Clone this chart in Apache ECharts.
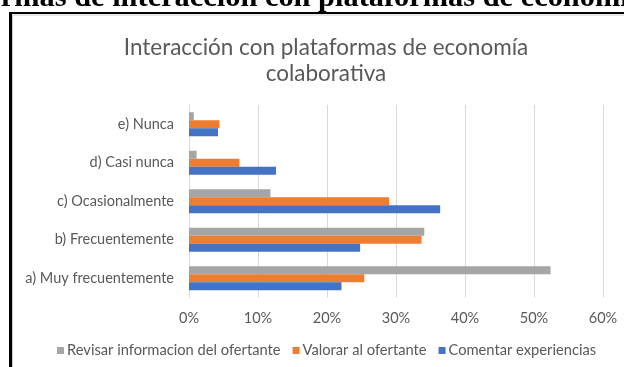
<!DOCTYPE html>
<html>
<head>
<meta charset="utf-8">
<script src="https://cdn.jsdelivr.net/npm/echarts@6/dist/echarts.min.js"></script>
<style>
  html, body { margin: 0; padding: 0; background: #fff; }
  #chart { width: 624px; height: 367px; }
</style>
</head>
<body>
<div id="chart"></div>
<script>
// Response categories (bottom to top on the vertical axis)
const categories = [
  'a) Muy frecuentemente',
  'b) Frecuentemente',
  'c) Ocasionalmente',
  'd) Casi nunca',
  'e) Nunca'
];

// Share of respondents per activity, in percent
const revisarInformacion = [52.4, 34.1, 11.8, 1.1, 0.7];
const valorarOfertante = [25.4, 33.7, 29.0, 7.3, 4.4];
const comentarExperiencias = [22.1, 24.8, 36.4, 12.6, 4.2];

const seriesNames = [
  'Revisar informacion del ofertante',
  'Valorar al ofertante',
  'Comentar experiencias'
];

const axisTicks = [0, 10, 20, 30, 40, 50, 60];

const chartTitle = 'Interacción con plataformas de economía\ncolaborativa';
const pageHeading = 'Formas de interacción con plataformas de economía colaborativa';

const font = 'Lato, "Open Sans", sans-serif';
const textGray = '#595959';

const chart = echarts.init(document.getElementById('chart'));

chart.setOption({
  animation: false,
  backgroundColor: '#fff',
  title: {
    text: chartTitle,
    left: 321,
    top: 30,
    textAlign: 'center',
    textStyle: {
      fontFamily: font,
      fontSize: 22.5,
      fontWeight: 'normal',
      color: textGray,
      lineHeight: 26
    }
  },
  legend: {
    data: seriesNames,
    bottom: 4,
    left: 52,
    itemWidth: 7,
    itemHeight: 7,
    itemGap: 12,
    icon: 'rect',
    textStyle: { fontFamily: font, fontSize: 14.7, color: textGray, padding: [0, 0, 0, -2] }
  },
  grid: {
    left: 189,
    right: 21,
    top: 105,
    bottom: 69.5,
    containLabel: false
  },
  xAxis: {
    type: 'value',
    min: axisTicks[0],
    max: axisTicks[axisTicks.length - 1],
    interval: 10,
    axisLine: { show: false },
    axisTick: { show: false },
    splitLine: { lineStyle: { color: '#d9d9d9', width: 1 } },
    axisLabel: {
      formatter: '{value}%',
      fontFamily: font,
      fontSize: 14.5,
      color: textGray,
      margin: 13
    }
  },
  yAxis: {
    type: 'category',
    data: categories,
    axisLine: { show: true, lineStyle: { color: '#d9d9d9' } },
    axisTick: { show: false },
    axisLabel: {
      fontFamily: font,
      fontSize: 14.5,
      color: textGray,
      margin: 15
    }
  },
  series: [
    {
      name: seriesNames[0],
      type: 'bar',
      data: revisarInformacion,
      itemStyle: { color: '#a5a5a5' },
      barWidth: 8,
      barGap: '0%'
    },
    {
      name: seriesNames[1],
      type: 'bar',
      data: valorarOfertante,
      itemStyle: { color: '#ed7d31' },
      barWidth: 8,
      barGap: '0%'
    },
    {
      name: seriesNames[2],
      type: 'bar',
      data: comentarExperiencias,
      itemStyle: { color: '#4472c4' },
      barWidth: 8,
      barGap: '0%'
    }
  ],
  graphic: [
    {
      type: 'text',
      left: -33,
      top: -17,
      style: {
        text: pageHeading,
        font: 'bold 30.4px "Liberation Serif", "Times New Roman", serif',
        fill: '#000'
      },
      z: 10
    },
    {
      type: 'line',
      shape: { x1: 10, y1: 13, x2: 624, y2: 13 },
      style: { stroke: '#000', lineWidth: 2 },
      z: 10
    },
    {
      type: 'line',
      shape: { x1: 12.5, y1: 15, x2: 624, y2: 15 },
      style: { stroke: '#cfcfcf', lineWidth: 1 },
      z: 10
    },
    {
      type: 'line',
      shape: { x1: 10.5, y1: 12, x2: 10.5, y2: 367 },
      style: { stroke: '#000', lineWidth: 3 },
      z: 10
    },
    {
      type: 'line',
      shape: { x1: 12.5, y1: 15, x2: 12.5, y2: 367 },
      style: { stroke: '#cfcfcf', lineWidth: 1 },
      z: 10
    }
  ]
});
</script>
</body>
</html>
